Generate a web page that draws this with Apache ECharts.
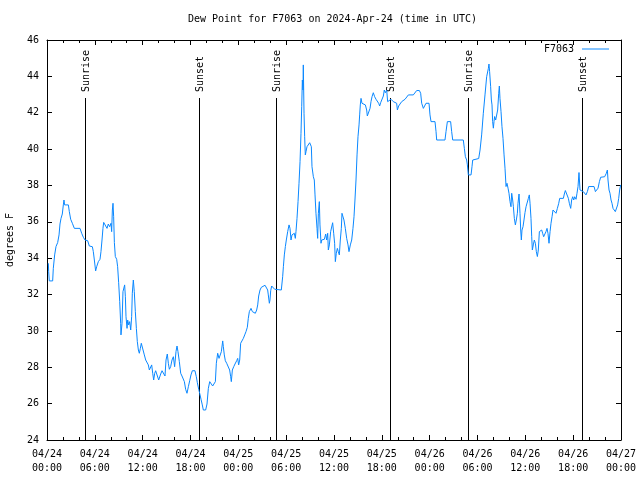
<!DOCTYPE html>
<html>
<head>
<meta charset="utf-8">
<script src="https://cdn.jsdelivr.net/npm/echarts@6/dist/echarts.min.js"></script>
<style>html,body{margin:0;padding:0;background:#fff}#c{width:640px;height:480px}</style>
</head>
<body>
<div id="c"></div>
<script>
// hours since 2024-04-24 00:00 UTC
var hours = [0.17,0.21,0.29,0.71,0.79,0.96,1.13,1.34,1.51,1.63,1.76,1.92,2.05,2.13,2.21,2.68,2.80,2.97,3.18,3.43,4.14,4.35,4.56,4.77,5.10,5.31,5.69,5.81,5.94,6.10,6.23,6.44,6.65,6.77,6.90,7.02,7.11,7.36,7.53,7.69,7.86,8.03,8.11,8.20,8.28,8.36,8.45,8.57,8.74,8.86,8.99,9.12,9.24,9.28,9.41,9.53,9.66,9.74,9.83,9.91,10.04,10.12,10.24,10.37,10.50,10.62,10.70,10.83,10.95,11.08,11.21,11.33,11.46,11.58,11.71,11.83,12.08,12.21,12.38,12.59,12.71,12.84,13.00,13.13,13.26,13.38,13.51,13.63,13.84,14.01,14.13,14.26,14.43,14.68,14.80,14.93,15.09,15.22,15.35,15.51,15.68,15.85,16.01,16.18,16.31,16.43,16.60,16.77,16.93,17.10,17.23,17.39,17.56,17.73,17.90,18.06,18.23,18.56,18.73,18.86,19.03,19.15,19.32,19.48,19.61,19.90,20.07,20.24,20.41,20.61,20.78,20.95,21.12,21.24,21.41,21.58,21.74,21.87,22.04,22.12,22.24,22.37,22.54,22.79,22.91,23.04,23.12,23.25,23.42,23.58,23.79,23.92,24.04,24.17,24.29,24.42,24.63,24.80,24.96,25.13,25.25,25.38,25.59,25.76,25.88,26.13,26.30,26.43,26.55,26.72,26.89,27.09,27.35,27.51,27.68,27.76,27.89,27.97,28.06,28.18,28.35,28.56,28.73,29.39,29.56,29.65,29.77,29.90,30.02,30.19,30.36,30.48,30.61,30.73,30.86,31.02,31.15,31.23,31.36,31.49,31.61,31.74,31.86,31.95,32.03,32.11,32.15,32.24,32.32,32.40,32.49,32.61,32.78,32.95,33.07,33.16,33.24,33.41,33.53,33.62,33.74,33.87,33.95,34.04,34.16,34.24,34.37,34.45,34.62,34.79,34.96,35.08,35.21,35.29,35.42,35.58,35.71,35.83,35.96,36.08,36.17,36.29,36.42,36.54,36.67,36.79,36.92,37.00,37.13,37.25,37.42,37.59,37.76,37.88,38.05,38.22,38.38,38.51,38.63,38.76,38.89,39.01,39.14,39.22,39.30,39.39,39.51,39.68,39.93,40.10,40.18,40.43,40.52,40.64,40.77,40.93,41.10,41.27,41.44,41.60,41.73,41.85,42.02,42.19,42.31,42.44,42.61,42.73,42.94,43.15,43.28,43.44,43.65,43.86,43.95,44.11,44.28,44.49,44.70,44.91,45.12,45.33,45.95,46.16,46.37,46.71,46.87,47.00,47.17,47.21,47.42,47.54,47.92,48.04,48.17,48.67,48.80,48.88,49.92,50.05,50.22,50.63,50.76,50.89,52.22,52.35,52.48,52.64,52.73,52.85,53.06,53.19,53.31,53.40,54.15,54.32,54.52,54.73,54.94,55.15,55.36,55.44,55.52,55.65,55.74,55.82,55.90,55.99,56.07,56.15,56.28,56.41,56.53,56.66,56.74,56.82,56.95,57.07,57.20,57.33,57.45,57.58,57.70,57.83,57.95,58.08,58.20,58.29,58.41,58.50,58.62,58.75,58.87,59.00,59.08,59.21,59.33,59.42,59.50,59.58,59.71,59.83,59.96,60.09,60.25,60.38,60.50,60.59,60.71,60.80,60.88,61.00,61.13,61.26,61.38,61.51,61.63,61.76,61.88,62.05,62.17,62.30,62.47,62.59,62.72,62.84,62.97,63.10,63.22,63.35,63.47,63.68,63.85,64.02,64.19,64.31,64.77,64.89,65.02,65.27,65.40,65.52,65.69,65.81,65.94,66.07,66.19,66.36,66.48,66.61,66.73,66.86,66.99,67.11,67.28,67.45,67.61,67.78,67.95,68.62,68.79,68.96,69.12,69.29,69.45,69.95,70.16,70.29,70.37,70.50,70.62,70.75,70.87,71.00,71.16,71.29,71.46,71.58,71.71,71.83,71.96];
var dewPoint = [33.72,33.26,32.75,32.75,33.44,34.18,34.64,34.86,35.28,35.88,36.19,36.43,36.93,37.2,36.93,36.93,36.56,36.14,35.92,35.64,35.64,35.37,35.15,35.0,34.96,34.67,34.63,34.36,33.90,33.30,33.53,33.81,33.94,34.36,35.0,35.64,35.97,35.97,35.64,35.88,35.73,35.92,35.46,36.65,37.02,36.28,34.86,34.09,33.94,33.53,32.65,31.61,30.42,29.78,30.42,32.16,32.25,32.53,31.88,30.78,30.14,30.6,30.33,30.51,30.05,30.78,32.07,32.8,32.16,31.06,30.14,29.41,28.95,28.77,29.04,29.32,29.32,28.68,28.4,28.37,28.13,27.85,27.94,28.13,27.67,27.30,27.67,27.81,27.81,27.3,27.21,27.63,27.81,27.81,27.52,28.4,28.73,28.22,27.89,28.03,28.4,28.58,28.03,28.86,29.17,28.86,28.31,27.67,27.52,27.48,27.21,26.79,26.57,26.93,27.26,27.58,27.81,27.81,27.48,27.15,26.79,26.57,26.24,25.93,25.65,25.65,25.98,26.84,27.21,27.12,26.97,26.93,27.21,28.22,28.77,28.49,28.49,28.86,29.45,29.13,28.68,28.36,28.22,28.22,27.85,27.48,27.21,27.85,28.03,28.18,28.36,28.49,28.13,28.4,29.32,29.41,29.59,29.78,29.96,30.2,30.69,31.06,31.24,31.06,30.97,30.97,31.15,31.43,31.92,32.25,32.4,32.51,32.51,32.4,32.25,31.98,31.52,31.7,32.21,32.47,32.4,32.29,32.25,32.25,32.98,33.53,34.18,34.64,35.0,35.46,35.83,35.64,35.0,35.28,35.18,35.37,35.09,35.46,36.19,37.11,38.12,39.31,40.87,42.33,43.8,43.25,44.63,41.97,40.68,39.68,39.86,40.13,40.23,40.35,40.41,40.13,39.03,38.48,38.3,37.48,36.47,35.64,35.09,36.47,37.11,35.83,34.82,35.0,35.0,35.04,35.33,35.0,35.37,34.45,34.73,35.46,35.55,35.95,35.37,34.82,33.81,34.27,34.54,34.36,34.18,35.0,35.64,36.47,36.38,36.1,35.64,35.09,34.73,34.36,34.73,35.0,35.64,36.28,37.2,38.3,39.68,40.68,41.33,41.88,42.43,42.79,42.52,42.43,42.43,42.15,41.82,41.82,42.24,42.61,42.88,43.1,42.88,42.74,42.66,42.52,42.37,42.55,42.66,42.92,43.25,43.1,43.25,42.61,42.55,42.74,42.74,42.61,42.55,42.52,42.15,42.37,42.48,42.61,42.7,42.74,42.7,42.98,42.98,43.07,43.22,43.22,43.07,42.52,42.52,42.24,42.24,42.52,42.52,41.88,41.51,41.51,40.96,40.5,40.5,40.96,41.51,41.51,40.96,40.5,40.5,40.04,39.58,39.4,39.13,38.58,38.52,38.58,39.03,39.4,39.48,39.95,40.78,41.97,42.98,43.98,44.43,44.68,44.26,43.43,42.7,42.43,41.51,41.15,41.51,41.79,41.6,41.51,42.15,43.07,43.47,42.79,42.06,41.23,40.59,39.68,38.95,37.94,38.12,37.85,37.57,37.11,36.83,37.57,37.2,36.83,36.19,35.83,36.1,36.47,37.02,37.53,36.47,35.55,35.0,35.55,35.73,36.1,36.51,36.83,36.83,37.29,37.48,37.02,36.19,35.18,34.45,34.73,35.0,34.82,34.36,34.09,34.45,35.46,35.55,35.55,35.37,35.18,35.18,35.46,35.64,35.37,34.82,35.46,35.92,36.28,36.65,36.65,36.47,36.74,37.02,37.29,37.29,37.53,37.72,37.72,37.29,37.02,36.74,37.2,37.38,37.2,37.38,37.24,37.57,37.94,38.71,37.75,37.66,37.75,37.66,37.57,37.48,37.66,37.94,37.94,37.66,37.57,37.85,38.21,38.45,38.48,38.67,38.85,38.3,37.75,37.57,37.2,37.02,36.74,36.83,36.56,36.51,36.93,37.29,37.75,38.03];
var sunTimes = [4.80, 19.08, 28.73, 43.05, 52.83, 67.13];
var sunLabels = ['Sunrise', 'Sunset', 'Sunrise', 'Sunset', 'Sunrise', 'Sunset'];
var dayLabels = ['04/24', '04/25', '04/26', '04/27'];
var seriesName = 'F7063';

var FONT = '"DejaVu Sans Mono", monospace';
var LINE_COLOR = '#0a88ff';
var chart = echarts.init(document.getElementById('c'), null, {renderer: 'canvas'});

function xLabel(v) {
  var d = Math.floor(v / 24 + 1e-6);
  var h = Math.round(v - d * 24);
  return dayLabels[d] + '\n' + (h < 10 ? '0' : '') + h + ':00';
}

var xBase = {
  type: 'value', min: 0, max: 72, interval: 6,
  axisLine: {show: true, onZero: false, lineStyle: {color: '#000', width: 1}},
  axisTick: {show: true, inside: true, length: 5, lineStyle: {color: '#000'}},
  minorTick: {show: true, splitNumber: 3, length: 3, lineStyle: {color: '#000'}},
  splitLine: {show: false}
};
var yBase = {
  type: 'value', min: 24, max: 46, interval: 2,
  axisLine: {show: true, onZero: false, lineStyle: {color: '#000', width: 1}},
  axisTick: {show: true, inside: true, length: 5, lineStyle: {color: '#000'}},
  splitLine: {show: false}
};

var option = {
  animation: false,
  backgroundColor: '#fff',
  title: {
    text: 'Dew Point for ' + seriesName + ' on 2024-Apr-24 (time in UTC)',
    left: 188, top: 14, padding: 0,
    textStyle: {fontFamily: FONT, fontSize: 10, fontWeight: 'normal', color: '#000'}
  },
  legend: {
    data: [seriesName], right: 31, top: 44, align: 'right', padding: 0,
    icon: 'rect', itemWidth: 27, itemHeight: 1,
    textStyle: {fontFamily: FONT, fontSize: 10, color: '#000', padding: [0, 3, 0, 0]}
  },
  grid: {left: 47, right: 19, top: 40, bottom: 40, containLabel: false, outerBoundsMode: 'none'},
  xAxis: [
    Object.assign({}, xBase, {
      position: 'bottom',
      axisLabel: {show: true, formatter: xLabel, margin: 7, lineHeight: 14,
        fontFamily: FONT, fontSize: 10, color: '#000', showMinLabel: true, showMaxLabel: true}
    }),
    Object.assign({}, xBase, {position: 'top', axisLabel: {show: false}})
  ],
  yAxis: [
    Object.assign({}, yBase, {
      position: 'left',
      name: 'degrees F', nameLocation: 'middle', nameGap: 32, nameRotate: 90,
      nameTextStyle: {fontFamily: FONT, fontSize: 10, color: '#000'},
      axisLabel: {show: true, margin: 8, fontFamily: FONT, fontSize: 10, color: '#000'}
    }),
    Object.assign({}, yBase, {position: 'right', axisLabel: {show: false}})
  ],
  series: [
    {
      name: seriesName, type: 'line', xAxisIndex: 0, yAxisIndex: 0,
      data: hours.map(function (h, i) { return [h, dewPoint[i]]; }),
      showSymbol: false, symbol: 'none',
      lineStyle: {color: LINE_COLOR, width: 1},
      itemStyle: {color: LINE_COLOR},
      z: 3
    },
    {
      name: 'sun', type: 'custom', xAxisIndex: 0, yAxisIndex: 0,
      data: sunTimes.map(function (h) { return [h, 24]; }),
      silent: true, z: 2,
      renderItem: function (params, api) {
        var p = api.coord([api.value(0), api.value(1)]);
        var cs = params.coordSys;
        var x = Math.round(p[0]) + 0.5;
        var yBottom = cs.y + cs.height;
        var yTop = cs.y + Math.round(cs.height * 0.146);
        return {
          type: 'group',
          children: [
            {type: 'line', shape: {x1: x, y1: yBottom, x2: x, y2: yTop},
              style: {stroke: '#000', lineWidth: 1}},
            {type: 'text', x: x + 1, y: yTop - 6, rotation: Math.PI / 2,
              style: {text: sunLabels[params.dataIndex], fill: '#000',
                font: '10px ' + FONT, align: 'left', verticalAlign: 'middle'}}
          ]
        };
      }
    }
  ]
};
chart.setOption(option);
</script>
</body>
</html>
